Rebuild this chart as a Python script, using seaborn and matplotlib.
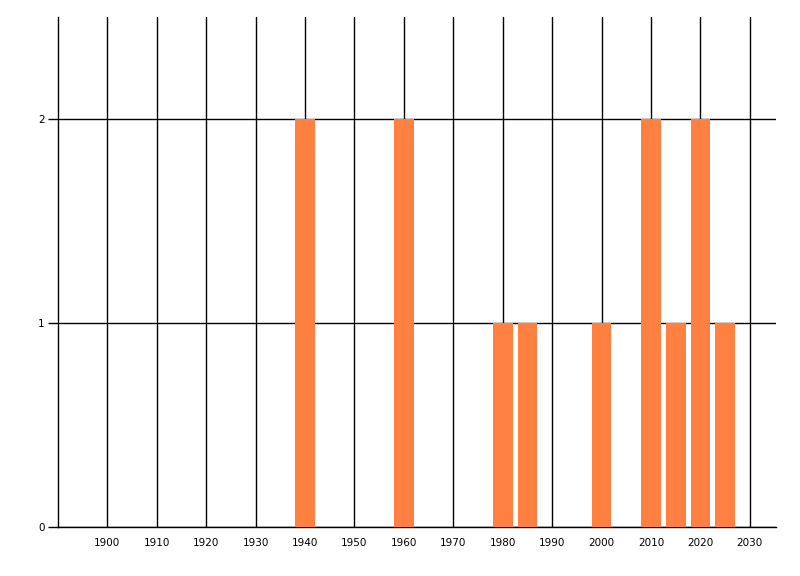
import matplotlib
matplotlib.use("Agg")
import matplotlib.pyplot as plt
import seaborn as sns

# dados
anos = [1940, 1960, 1980, 1985, 2000, 2010, 2015, 2020, 2025]
contagem = [2, 2, 1, 1, 1, 2, 1, 2, 1]
ticks_x = list(range(1900, 2031, 10))
ticks_y = [0, 1, 2]

sns.set_style("white")
plt.rcParams['font.family'] = ['DejaVu Sans']

fig = plt.figure(figsize=(8, 5.76), dpi=100)
ax = fig.add_axes([58 / 800, 49 / 576, 718 / 800, 510 / 576])

sns.barplot(x=anos, y=contagem, native_scale=True, width=0.8,
            color='#FF8040', saturation=1, linewidth=0, edgecolor='none',
            ax=ax, zorder=3)

ax.set_xlim(1890, 2035.3)
ax.set_ylim(0, 2.5)
ax.set_xticks(ticks_x)
ax.set_xticklabels([str(t) for t in ticks_x], fontsize=7.5)
ax.set_yticks(ticks_y)
ax.set_yticklabels([str(t) for t in ticks_y], fontsize=7.5)

# grade preta
ax.grid(True, color='black', linewidth=1, zorder=1)
ax.set_axisbelow(True)
ax.tick_params(axis='x', length=0, pad=8, colors='black')
ax.tick_params(axis='y', length=7.5, width=1, pad=2, colors='black', left=True)

sns.despine(ax=ax, top=True, right=True)
for s in ['left', 'bottom']:
    ax.spines[s].set_color('black')
    ax.spines[s].set_linewidth(1)

ax.set_xlabel('')
ax.set_ylabel('')
fig.savefig('out.png', dpi=100)
